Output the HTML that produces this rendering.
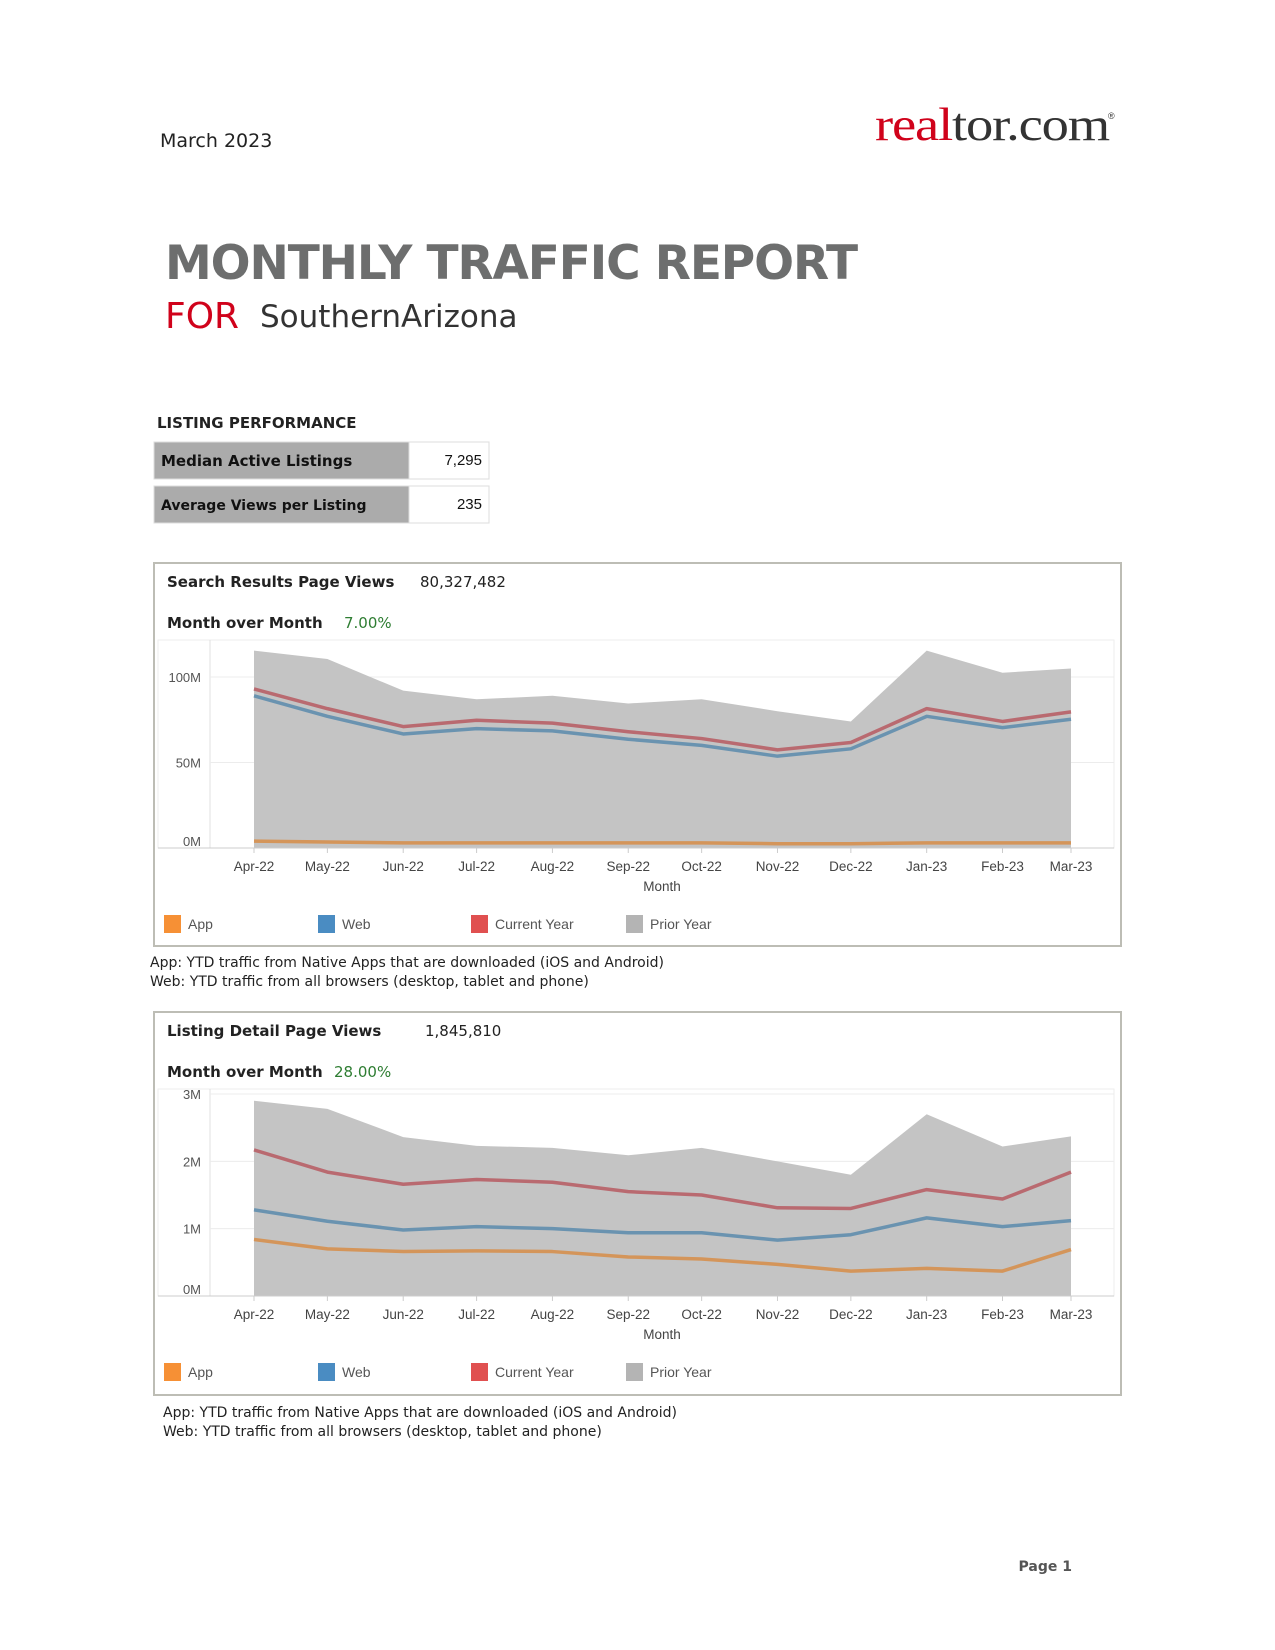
<!DOCTYPE html>
<html><head><meta charset="utf-8"><style>
body{margin:0;background:#fff;}
svg{display:block;}
</style></head><body>
<svg id="page" width="1275" height="1650" viewBox="0 0 1275 1650" xmlns="http://www.w3.org/2000/svg">
<text x="160" y="147" font-family="DejaVu Sans, sans-serif" font-size="19" fill="#222">March 2023</text>
<g>
<text x="875" y="140" font-family="Liberation Serif, serif" font-size="47" letter-spacing="-1" textLength="234" lengthAdjust="spacingAndGlyphs"><tspan fill="#d0021b">real</tspan><tspan fill="#333">tor.com</tspan></text>
<text x="1108" y="119" font-family="Liberation Sans, sans-serif" font-size="9" fill="#333">®</text>
</g>
<text x="165" y="279" font-family="DejaVu Sans, sans-serif" font-weight="bold" font-size="47" fill="#6d6e6e" textLength="693">MONTHLY TRAFFIC REPORT</text>
<text x="165" y="328" font-family="DejaVu Sans, sans-serif" font-size="36" fill="#d0021b">FOR</text>
<text x="260" y="327" font-family="DejaVu Sans, sans-serif" font-size="31" fill="#333">SouthernArizona</text>

<text x="157" y="428" font-family="DejaVu Sans, sans-serif" font-weight="bold" font-size="15" fill="#222">LISTING PERFORMANCE</text>
<g>
<rect x="154" y="442" width="255" height="37" fill="#ababab" stroke="#ddd"/>
<rect x="409" y="442" width="80" height="37" fill="#fff" stroke="#ddd"/>
<text x="161" y="466" font-family="DejaVu Sans, sans-serif" font-weight="bold" font-size="15" fill="#111">Median Active Listings</text>
<text x="482" y="465" text-anchor="end" font-family="Liberation Sans, sans-serif" font-size="15" fill="#111">7,295</text>
</g>
<g>
<rect x="154" y="486" width="255" height="37" fill="#ababab" stroke="#ddd"/>
<rect x="409" y="486" width="80" height="37" fill="#fff" stroke="#ddd"/>
<text x="161" y="510" font-family="DejaVu Sans, sans-serif" font-weight="bold" font-size="14" fill="#111">Average Views per Listing</text>
<text x="482" y="509" text-anchor="end" font-family="Liberation Sans, sans-serif" font-size="15" fill="#111">235</text>
</g>

<g id="chart1"></g>
<g id="chart2"></g>

<g font-family="DejaVu Sans, sans-serif" font-size="14" fill="#222">
<text x="150" y="967">App: YTD traffic from Native Apps that are downloaded (iOS and Android)</text>
<text x="150" y="986">Web: YTD traffic from all browsers (desktop, tablet and phone)</text>
<text x="163" y="1417">App: YTD traffic from Native Apps that are downloaded (iOS and Android)</text>
<text x="163" y="1436">Web: YTD traffic from all browsers (desktop, tablet and phone)</text>
</g>
<text x="1072" y="1571" text-anchor="end" font-family="DejaVu Sans, sans-serif" font-weight="bold" font-size="14" fill="#555">Page 1</text>
</svg>
<script>
const months = ["Apr-22","May-22","Jun-22","Jul-22","Aug-22","Sep-22","Oct-22","Nov-22","Dec-22","Jan-23","Feb-23","Mar-23"];
const monthDays = [0,30,61,91,122,153,183,214,244,275,306,334];
const srpPrior = [115.4,110.5,92,87,89,84.5,87,80,74,115.4,102.5,105];
const srpCurrent = [93,81.5,71,74.7,73,68,64,57.4,61.7,81.5,74,79.6];
const srpWeb = [89,77,66.7,69.8,68.5,63.6,60,53.7,58,77,70.4,75.3];
const srpApp = [4,3.5,3,3,3,3,3,2.5,2.5,3,3,3];
const srpTicks = [0,50,100];
const srpTickLabels = ["0M","50M","100M"];
const ldpPrior = [2.9,2.78,2.36,2.23,2.2,2.09,2.2,2.0,1.8,2.7,2.22,2.37];
const ldpCurrent = [2.17,1.84,1.66,1.73,1.69,1.55,1.5,1.31,1.3,1.58,1.44,1.84];
const ldpWeb = [1.28,1.11,0.98,1.03,1.0,0.94,0.94,0.83,0.91,1.16,1.03,1.12];
const ldpApp = [0.84,0.7,0.66,0.67,0.66,0.58,0.55,0.47,0.37,0.41,0.37,0.69];
const ldpTicks = [0,1,2,3];
const ldpTickLabels = ["0M","1M","2M","3M"];

const NS="http://www.w3.org/2000/svg";
function mk(parent,tag,attrs,text){const e=document.createElementNS(NS,tag);for(const k in attrs)e.setAttribute(k,attrs[k]);if(text!==undefined)e.textContent=text;parent.appendChild(e);return e;}

function drawChart(gid,top,title,total,totalX,mom,momX,prior,current,web,app,ticks,tickLabels,yMax,y0px,yTopPx){
  const g=document.getElementById(gid);
  const box=mk(g,'rect',{x:154,y:top,width:967,height:383,fill:'#fff',stroke:'#bdbdb5','stroke-width':2});
  
  
  const t=mk(g,'text',{x:167,y:top+24,'font-family':'DejaVu Sans, sans-serif','font-weight':'bold','font-size':15,fill:'#222'},title);
  
  
  const tv=mk(g,'text',{x:totalX,y:top+24,'font-family':'DejaVu Sans, sans-serif','font-size':15,fill:'#222'},total);
  
  
  const m=mk(g,'text',{x:167,y:top+65,'font-family':'DejaVu Sans, sans-serif','font-weight':'bold','font-size':15,fill:'#222'},'Month over Month');
  
  
  const mv=mk(g,'text',{x:momX,y:top+65,'font-family':'DejaVu Sans, sans-serif','font-size':15,fill:'#2e7d32'},mom);
  
  
  const plotTop=top+77, xL=254, xR=1071, axisLeft=210;
  const X=i=>xL+(xR-xL)*monthDays[i]/monthDays[monthDays.length-1];
  const Y=v=>y0px-(y0px-yTopPx)*v/yMax;
  mk(g,'rect',{x:158,y:plotTop,width:956,height:y0px-plotTop,fill:'none',stroke:'#eee'});
  mk(g,'line',{x1:axisLeft,y1:plotTop,x2:axisLeft,y2:y0px,stroke:'#e0e0e0'});
  ticks.forEach((v,i)=>{
    if(v>0){const gl=mk(g,'line',{x1:axisLeft,y1:Y(v),x2:1114,y2:Y(v),stroke:'#ececec'});
      
      }
    const tl=mk(g,'text',{x:201,y:Y(v)+5-(v===0?7:0),'text-anchor':'end','font-family':'Liberation Sans, sans-serif','font-size':13,fill:'#555'},tickLabels[i]);
    
    
  });
  let d='M'+X(0)+','+y0px;
  prior.forEach((v,i)=>{d+=' L'+X(i)+','+Y(v);});
  d+=' L'+X(prior.length-1)+','+y0px+' Z';
  const area=mk(g,'path',{d:d,fill:'#c4c4c4'});
  
  
  mk(g,'line',{x1:158,y1:y0px,x2:1114,y2:y0px,stroke:'#ccc'});
  const series=[[app,'#d4955a','app-line'],[web,'#6a93b0','web-line'],[current,'#b96a70','current-year-line']];
  series.forEach(s=>{
    const pts=s[0].map((v,i)=>X(i)+','+Y(v)).join(' ');
    const pl=mk(g,'polyline',{points:pts,fill:'none',stroke:s[1],'stroke-width':3.5,'stroke-linejoin':'round'});
    
    
  });
  months.forEach((lab,i)=>{
    mk(g,'line',{x1:X(i),y1:y0px,x2:X(i),y2:y0px+5,stroke:'#ccc'});
    const xl=mk(g,'text',{x:X(i),y:y0px+23,'text-anchor':'middle','font-family':'Liberation Sans, sans-serif','font-size':13.5,fill:'#444'},lab);
    
    
  });
  const xt=mk(g,'text',{x:662,y:y0px+43,'text-anchor':'middle','font-family':'Liberation Sans, sans-serif','font-size':13.5,fill:'#444'},'Month');
  
  
  const leg=[['App','#f69035',164],['Web','#4a8cc2',318],['Current Year','#e05050',471],['Prior Year','#b4b4b4',626]];
  const ly=y0px+76;
  leg.forEach(l=>{
    const lg=mk(g,'g',{});
    
    
    mk(lg,'rect',{x:l[2],y:ly-9,width:17,height:18,fill:l[1]});
    mk(lg,'text',{x:l[2]+24,y:ly+5,'font-family':'Liberation Sans, sans-serif','font-size':14,fill:'#555'},l[0]);
  });
}
drawChart('chart1',563,'Search Results Page Views','80,327,482',420,'7.00%',344,srpPrior,srpCurrent,srpWeb,srpApp,srpTicks,srpTickLabels,100,848,677);
drawChart('chart2',1012,'Listing Detail Page Views','1,845,810',425,'28.00%',334,ldpPrior,ldpCurrent,ldpWeb,ldpApp,ldpTicks,ldpTickLabels,3,1296,1094);
</script>
</body></html>
